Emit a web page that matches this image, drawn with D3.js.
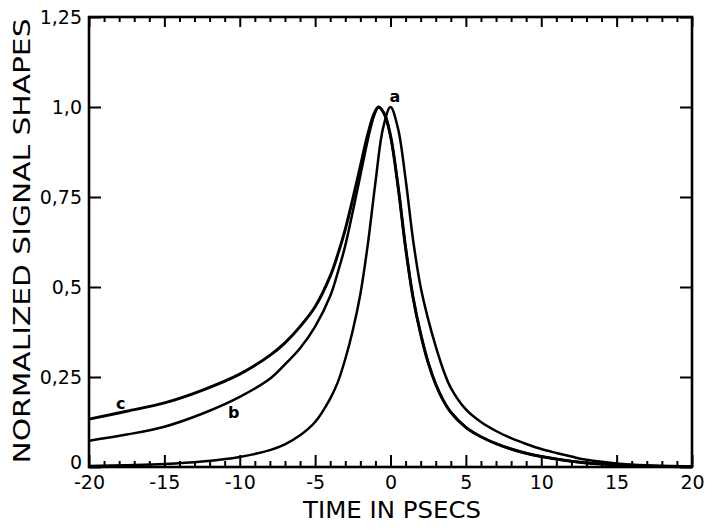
<!DOCTYPE html>
<html><head><meta charset="utf-8">
<script src="https://cdn.jsdelivr.net/npm/d3@7"></script>
<style>body{margin:0;background:#fff}svg{display:block}</style>
</head><body>
<svg id="c" width="705" height="529"></svg>
<script>
// ---- data ----
const xTicks = [-20, -15, -10, -5, 0, 5, 10, 15, 20];
const xTickLabels = ["-20", "-15", "-10", "-5", "0", "5", "10", "15", "20"];
const yTicks = [0, 0.25, 0.5, 0.75, 1.0, 1.25];
const yTickLabels = ["0", "0,25", "0,5", "0,75", "1,0", "1,25"];

// curve a : narrow pulse peaking at t = 0
const curveA = [[-20,0.003],[-17.5,0.005],[-15,0.008],[-12.5,0.015],[-10,0.028],[-8,0.047],[-7,0.063],[-6,0.088],
  [-5,0.125],[-4,0.19],[-3.5,0.235],[-3,0.3],[-2.5,0.38],[-2,0.48],[-1.5,0.62],[-1,0.79],[-0.5,0.94],
  [0,1.0],[0.5,0.94],[1,0.8],[1.5,0.63],[2,0.5],[2.5,0.41],[3,0.335],[3.5,0.27],[4,0.22],[5,0.16],
  [6,0.125],[7,0.1],[8,0.08],[9,0.064],[10,0.05],[11,0.039],[12,0.029],[13,0.02],[15,0.01],[17,0.005],[20,0.002]];
// curve b
const curveB = [[-20,0.073],[-17.5,0.09],[-15,0.112],[-12.5,0.148],[-10,0.195],[-8,0.245],[-7,0.285],[-6,0.33],
  [-5,0.39],[-4,0.475],[-3.5,0.54],[-3,0.615],[-2.5,0.71],[-2,0.81],[-1.5,0.91],[-1.1,0.975],[-0.8,1.0],
  [-0.4,0.98],[0,0.92],[0.5,0.78],[1,0.61],[1.5,0.47],[2,0.37],[2.5,0.29],[3,0.23],[3.5,0.185],[4,0.152],
  [5,0.11],[6,0.084],[7,0.065],[8,0.05],[9,0.038],[10,0.029],[12,0.016],[14,0.008],[17,0.003],[20,0.001]];
// curve c
const curveC = [[-20,0.133],[-17.5,0.155],[-15,0.178],[-12.5,0.213],[-10,0.258],[-8,0.31],[-7,0.345],[-6,0.39],
  [-5,0.445],[-4,0.53],[-3.5,0.59],[-3,0.66],[-2.5,0.745],[-2,0.835],[-1.5,0.925],[-1.1,0.98],[-0.8,1.0],
  [-0.4,0.98],[0,0.92],[0.5,0.78],[1,0.61],[1.5,0.47],[2,0.37],[2.5,0.29],[3,0.23],[3.5,0.185],[4,0.152],
  [5,0.11],[6,0.084],[7,0.065],[8,0.05],[9,0.038],[10,0.029],[12,0.016],[14,0.008],[17,0.003],[20,0.001]];
const curveLabels = [
  {text: "a", t: 0.3, v: 1.015},
  {text: "b", t: -10.4, v: 0.135},
  {text: "c", t: -17.9, v: 0.16}
];

// ---- drawing ----
const svg = d3.select("#c");
const L = 89, R = 692, T = 17, B = 467;
const x = d3.scaleLinear().domain([-20, 20]).range([L, R]);
const y = d3.scaleLinear().domain([0, 1.25]).range([B, T]);
const font = "DejaVu Sans, Liberation Sans, sans-serif";

function style(g) {
  g.select(".domain").remove();
  g.selectAll(".tick line").attr("stroke", "#000").attr("stroke-width", 2);
  g.selectAll(".tick text").attr("fill", "#000").style("font-family", font);
}
const minorX = d3.range(-19, 20, 1).filter(v => v % 5 !== 0);

// bottom axis major (with labels) and minor
svg.append("g").attr("transform", `translate(0,${B})`)
  .call(d3.axisBottom(x).tickValues(xTicks).tickSizeInner(-12).tickSizeOuter(0).tickPadding(6)
    .tickFormat((d, i) => xTickLabels[i]))
  .call(style)
  .call(g => g.selectAll(".tick text").attr("font-size", 19).attr("dy", "0.85em"));
svg.append("g").attr("transform", `translate(0,${B})`)
  .call(d3.axisBottom(x).tickValues(minorX).tickSize(-6).tickFormat(""))
  .call(style);
// top axis
svg.append("g").attr("transform", `translate(0,${T})`)
  .call(d3.axisTop(x).tickValues(xTicks).tickSize(-10).tickFormat(""))
  .call(style);
svg.append("g").attr("transform", `translate(0,${T})`)
  .call(d3.axisTop(x).tickValues(minorX).tickSize(-5).tickFormat(""))
  .call(style);
// left axis
svg.append("g").attr("transform", `translate(${L},0)`)
  .call(d3.axisLeft(y).tickValues(yTicks).tickSizeInner(-12).tickSizeOuter(0).tickPadding(8)
    .tickFormat((d, i) => yTickLabels[i]))
  .call(style)
  .call(g => g.selectAll(".tick text").attr("font-size", 19).attr("x", -7))
  .call(g => g.selectAll(".tick").filter(d => d === 0).select("text").attr("dy", "0.1em"));
// right axis
svg.append("g").attr("transform", `translate(${R},0)`)
  .call(d3.axisRight(y).tickValues(yTicks).tickSize(-12).tickFormat(""))
  .call(style);

// frame
svg.append("rect").attr("x", L).attr("y", T).attr("width", R - L).attr("height", B - T)
  .attr("fill", "none").attr("stroke", "#000").attr("stroke-width", 2.6);

// curves
const line = d3.line().x(d => x(d[0])).y(d => y(d[1])).curve(d3.curveCatmullRom.alpha(0.5));
[curveA, curveB, curveC].forEach((c, i) => {
  svg.append("path").datum(c).attr("d", line).attr("fill", "none")
    .attr("stroke", "#000").attr("stroke-width", i === 2 ? 3 : 2.5).attr("stroke-linejoin", "round");
});

// curve labels
svg.selectAll(".clab").data(curveLabels).enter().append("text")
  .attr("x", d => x(d.t)).attr("y", d => y(d.v))
  .attr("text-anchor", "middle").attr("font-size", 16).attr("font-weight", "bold")
  .style("font-family", font).text(d => d.text);

// axis titles
svg.append("text").attr("x", 392).attr("y", 518).attr("text-anchor", "middle")
  .attr("font-size", 23).attr("textLength", 178).attr("lengthAdjust", "spacingAndGlyphs")
  .style("font-family", font).text("TIME IN PSECS");
svg.append("text").attr("transform", "translate(30,241) rotate(-90)").attr("text-anchor", "middle")
  .attr("font-size", 23).attr("textLength", 445).attr("lengthAdjust", "spacingAndGlyphs")
  .style("font-family", font).text("NORMALIZED SIGNAL SHAPES");
</script>
</body></html>
